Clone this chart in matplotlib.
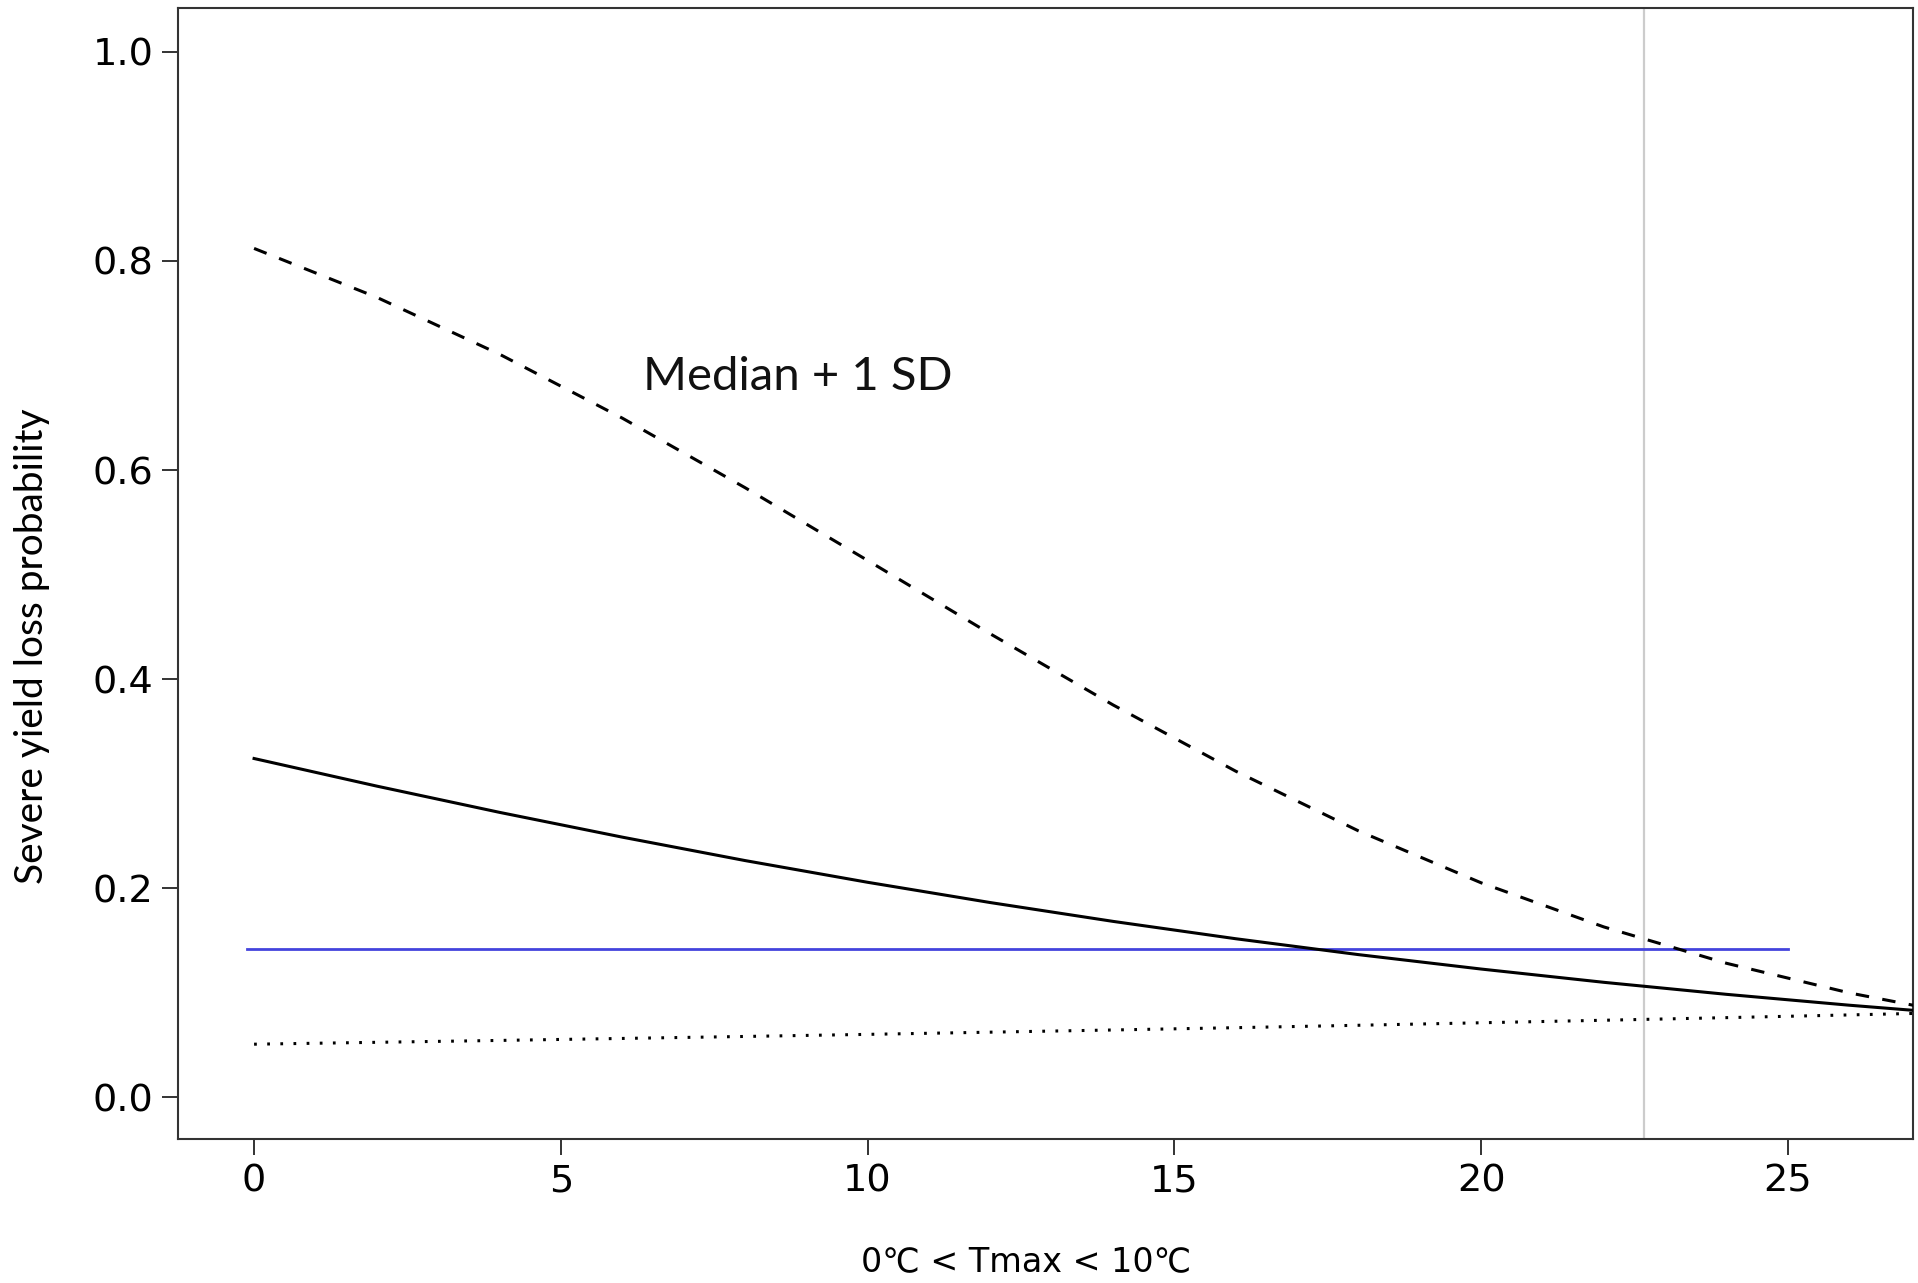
import matplotlib
matplotlib.use("Agg")
import matplotlib.pyplot as plt
from matplotlib import font_manager

# Data
x_vals = [0, 2, 4, 6, 8, 10, 12, 14, 16, 18, 20, 22, 24, 26, 28]
median_vals = [0.3240, 0.2976, 0.2725, 0.2488, 0.2264, 0.2056, 0.1862, 0.1682,
               0.1516, 0.1364, 0.1226, 0.1099, 0.0984, 0.0880, 0.0786]
plus_sd_vals = [0.8120, 0.7652, 0.7108, 0.6497, 0.5832, 0.5135, 0.4433, 0.3753,
                0.3119, 0.2548, 0.2051, 0.1629, 0.1281, 0.0998, 0.0771]
minus_sd_vals = [0.0507, 0.0525, 0.0543, 0.0562, 0.0581, 0.0601, 0.0622, 0.0643,
                 0.0665, 0.0688, 0.0712, 0.0736, 0.0761, 0.0787, 0.0814]
baseline_x = [-0.12, 25.0]
baseline_y = [0.1416, 0.1416]
vline_x = 22.65
x_ticks = [0, 5, 10, 15, 20, 25]
y_ticks = [0.0, 0.2, 0.4, 0.6, 0.8, 1.0]
y_ticklabels = ["0.0", "0.2", "0.4", "0.6", "0.8", "1.0"]
annotation = "Median + 1 SD"
xlabel = "0\u2103 < Tmax < 10\u2103"
ylabel = "Severe yield loss probability"

names = {f.name for f in font_manager.fontManager.ttflist}
narrow = "Liberation Sans Narrow" if "Liberation Sans Narrow" in names else None

fig = plt.figure(figsize=(19.18, 12.83), dpi=100)
ax = fig.add_axes([178/1918, 1 - 1139/1283, (1913-178)/1918, (1139-8)/1283])

ax.axvline(vline_x, color="#cccccc", lw=1.6, zorder=1)
ax.plot(x_vals, plus_sd_vals, color="black", lw=2.2, linestyle=(0, (4.4, 4.4)), zorder=3)
ax.plot(x_vals, median_vals, color="black", lw=2.2, zorder=3)
ax.plot(x_vals, minus_sd_vals, color="black", lw=2.2, linestyle=(0, (0.9, 3.4)), zorder=3)
ax.plot(baseline_x, baseline_y, color="#4444dd", lw=2.0, zorder=2)

ax.set_xlim(-1.24, 27.04)
ax.set_ylim(-0.04, 1.042)
ax.set_xticks(x_ticks)
ax.set_xticklabels([str(t) for t in x_ticks])
ax.set_yticks(y_ticks)
ax.set_yticklabels(y_ticklabels)
ax.tick_params(axis="both", direction="out", length=11.5, width=1.4, color="#333333",
               labelsize=27.5, pad=6)
for lab in ax.get_xticklabels() + ax.get_yticklabels():
    lab.set_family("DejaVu Sans")
for s in ax.spines.values():
    s.set_linewidth(1.5)
    s.set_color("#333333")

ax.text(6.34, 0.677, annotation, ha="left", va="baseline", fontsize=34,
        family="Lato", color="#111111")

if narrow:
    fig.text(1026/1918, 1 - 1262/1283, xlabel, ha="center", va="center",
             fontsize=29, family=[narrow, "DejaVu Sans"])
else:
    fig.text(1026/1918, 1 - 1262/1283, xlabel, ha="center", va="center",
             fontsize=24, family="DejaVu Sans")
fig.text(32/1918, 1 - 646/1283, ylabel, ha="center", va="center", rotation=90,
         fontsize=28, family="Lato")

fig.savefig("out.png", dpi=100)
